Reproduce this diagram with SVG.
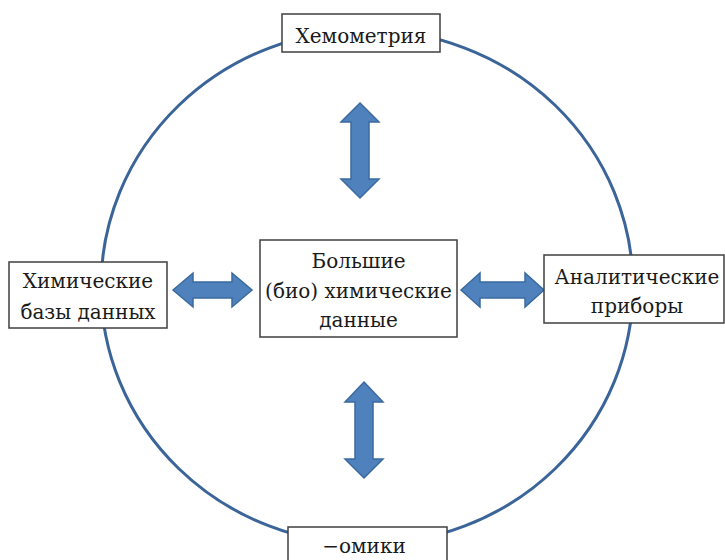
<svg xmlns="http://www.w3.org/2000/svg" width="725" height="560" viewBox="0 0 725 560">
<style>
.box{fill:#ffffff;stroke:#3f3f3f;stroke-width:1.5}
.t{font-family:'DejaVu Serif','Liberation Serif',serif;font-size:20px;fill:#1a1a1a;text-anchor:middle}
.arr{fill:#4f81bd;stroke:#3a6a9e;stroke-width:1.5;stroke-linejoin:miter}
</style>
<rect width="725" height="560" fill="#ffffff"/>
<g id="ring">
<ellipse cx="367" cy="287" rx="266" ry="257" fill="none" stroke="#3b6599" stroke-width="3"/>
</g>
<g id="connectors">
<path class="arr" d="M360,103 L379,122 L369,122 L369,179 L379,179 L360,198 L341,179 L351,179 L351,122 L341,122 Z"/>
<path class="arr" d="M364,382 L383,402 L373,402 L373,459 L383,459 L364,478 L345,459 L355,459 L355,402 L345,402 Z"/>
<path class="arr" d="M173,290 L193,273 L193,282 L232,282 L232,273 L252,290 L232,307 L232,298 L193,298 L193,307 Z"/>
<path class="arr" d="M461,290 L480,273 L480,282 L525,282 L525,273 L544,290 L525,307 L525,298 L480,298 L480,307 Z"/>
</g>
<g id="node-top">
<rect class="box" x="282" y="14" width="158" height="38"/>
<text class="t" x="361" y="43">Хемометрия</text>
</g>
<g id="node-center">
<rect class="box" x="260" y="240" width="197" height="97"/>
<text class="t" x="358.5" y="268">Большие</text>
<text class="t" x="358.5" y="298">(био) химические</text>
<text class="t" x="358.5" y="327">данные</text>
</g>
<g id="node-left">
<rect class="box" x="9" y="262" width="158" height="66"/>
<text class="t" x="88" y="288">Химические</text>
<text class="t" x="88" y="319">базы данных</text>
</g>
<g id="node-right">
<rect class="box" x="544" y="255" width="180" height="68"/>
<text class="t" x="637" y="284">Аналитические</text>
<text class="t" x="637" y="313">приборы</text>
</g>
<g id="node-bottom">
<rect class="box" x="288" y="527" width="159" height="40"/>
<text class="t" x="364" y="553">−омики</text>
</g>
</svg>
